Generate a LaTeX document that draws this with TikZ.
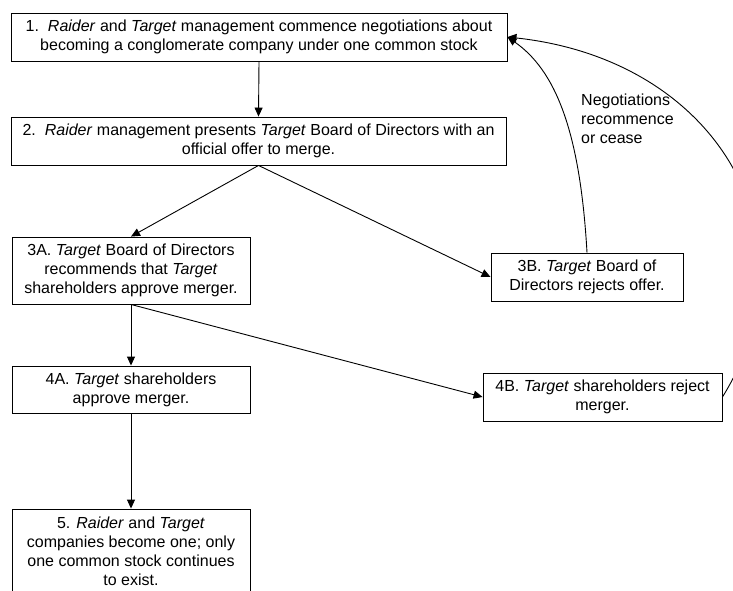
\documentclass[tikz,border=0pt]{standalone}
\usepackage{fontspec}
\setmainfont{Liberation Sans}
\usetikzlibrary{arrows.meta}
\begin{document}
\begin{tikzpicture}[x=1pt,y=-1pt,
  box/.style={draw,line width=0.9pt,rectangle,inner sep=0pt,align=center,
    font=\fontsize{16}{19}\selectfont},
  conn/.style={line width=0.9pt,-{Triangle[length=9pt,width=8pt]}},
  lbl/.style={inner sep=0pt,align=left,font=\fontsize{16}{19}\selectfont}]
\useasboundingbox (0,0) rectangle (733,590);
\clip (0,0) rectangle (733,590);
\node[box,minimum width=496,minimum height=48] (b1) at (259,37)
  {1.\ \ \textit{Raider} and \textit{Target} management commence negotiations about\\becoming a conglomerate company under one common stock};
\node[box,minimum width=495,minimum height=48] (b2) at (258.5,141)
  {2.\ \ \textit{Raider} management presents \textit{Target} Board of Directors with an\\official offer to merge.};
\node[box,minimum width=238,minimum height=67] (b3a) at (131,270.5)
  {3A. \textit{Target} Board of Directors\\recommends that \textit{Target}\\shareholders approve merger.};
\node[box,minimum width=192,minimum height=48] (b3b) at (587,277)
  {3B. \textit{Target} Board of\\Directors rejects offer.};
\node[box,minimum width=238,minimum height=47] (b4a) at (131,389.5)
  {4A. \textit{Target} shareholders\\approve merger.};
\node[box,minimum width=239,minimum height=48] (b4b) at (602.5,397)
  {4B. \textit{Target} shareholders reject\\merger.};
\node[box,minimum width=238,minimum height=84] (b5) at (131,551)
  {5. \textit{Raider} and \textit{Target}\\companies become one; only\\one common stock continues\\to exist.};
\node[lbl,anchor=west] (neg) at (581,119) {Negotiations\\recommence\\or cease};
\draw[conn] (b1.south) -- (b2.north);
\draw[conn] (b2.south) -- (b3a.north);
\draw[conn] (b2.south) -- (b3b.west);
\draw[conn] (b3a.south) -- (b4a.north);
\draw[conn] (b3a.south) -- (b4b.west);
\draw[conn] (b4a.south) -- (b5.north);
\draw[conn] (b3b.north) .. controls (580,130) and (555,70) .. (b1.east);
\draw[conn] (b4b.east) .. controls (820,240) and (720,60) .. (b1.east);
\end{tikzpicture}
\end{document}
